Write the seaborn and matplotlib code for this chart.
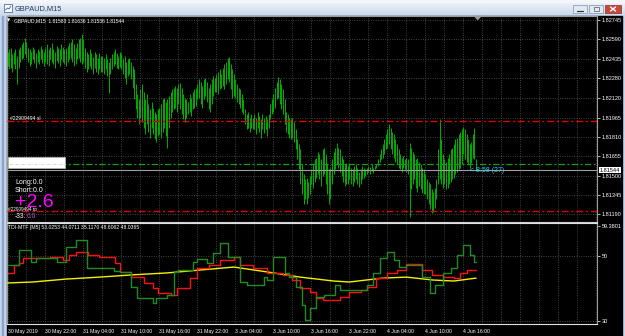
import numpy as np
import pandas as pd
import matplotlib
matplotlib.use("Agg")
import matplotlib.pyplot as plt
import seaborn as sns
from matplotlib.patches import Rectangle, Polygon
from matplotlib.colors import LinearSegmentedColormap
import matplotlib.transforms as mtransforms

sns.set_theme(style="dark")
plt.rcParams['font.family'] = ['Liberation Sans', 'DejaVu Sans']

# ---------------- data ----------------
symbol = "GBPAUD,M15"
ohlc_last = "1.81583 1.81636 1.81536 1.81544"
bid = 1.81544

highs = [
    1.8249,1.8251,1.8252,1.8247,1.8249,1.8251,1.8246,1.8251,1.8253,1.8255,1.8257,1.8260,
    1.8257,1.8252,1.8251,1.8249,1.8253,1.8251,1.8248,1.8251,1.8250,1.8254,1.8251,1.8249,
    1.8252,1.8255,1.8251,1.8253,1.8256,1.8251,1.8249,1.8254,1.8252,1.8251,1.8255,1.8253,
    1.8251,1.8252,1.8254,1.8256,1.8257,1.8259,1.8255,1.8252,1.8256,1.8259,1.8260,1.8263,
    1.8259,1.8252,1.8249,1.8247,1.8251,1.8248,1.8245,1.8249,1.8247,1.8244,1.8248,1.8246,
    1.8246,1.8244,1.8247,1.8243,1.8241,1.8244,1.8247,1.8249,1.8251,1.8248,1.8246,1.8249,
    1.8248,1.8244,1.8246,1.8241,1.8243,1.8244,1.8241,1.8238,1.8235,1.8223,1.8215,1.8211,
    1.8219,1.8223,1.8217,1.8211,1.8215,1.8207,1.8203,1.8209,1.8204,1.8201,1.8199,1.8203,
    1.8204,1.8207,1.8211,1.8212,1.8209,1.8211,1.8214,1.8217,1.8219,1.8220,1.8222,1.8220,
    1.8223,1.8224,1.8220,1.8215,1.8212,1.8211,1.8209,1.8215,1.8212,1.8217,1.8219,1.8220,
    1.8223,1.8227,1.8225,1.8222,1.8227,1.8228,1.8225,1.8220,1.8223,1.8227,1.8230,1.8228,
    1.8231,1.8233,1.8235,1.8231,1.8236,1.8239,1.8241,1.8244,1.8245,1.8239,1.8235,1.8231,
    1.8227,1.8223,1.8220,1.8219,1.8215,1.8211,1.8203,1.8199,1.8201,1.8196,1.8199,1.8196,
    1.8199,1.8196,1.8201,1.8198,1.8195,1.8199,1.8196,1.8198,1.8195,1.8199,1.8207,1.8211,
    1.8215,1.8220,1.8225,1.8229,1.8227,1.8223,1.8219,1.8211,1.8201,1.8199,1.8196,1.8195,
    1.8196,1.8193,1.8187,1.8179,1.8175,1.8171,1.8159,1.8151,1.8147,1.8148,1.8145,1.8150,
    1.8155,1.8159,1.8163,1.8164,1.8169,1.8167,1.8163,1.8171,1.8172,1.8167,1.8159,1.8155,
    1.8156,1.8163,1.8169,1.8172,1.8176,1.8172,1.8171,1.8166,1.8163,1.8159,1.8160,1.8158,
    1.8159,1.8156,1.8155,1.8158,1.8159,1.8156,1.8153,1.8155,1.8158,1.8156,1.8155,1.8156,
    1.8158,1.8157,1.8159,1.8156,1.8158,1.8159,1.8163,1.8167,1.8171,1.8175,1.8179,1.8183,
    1.8187,1.8191,1.8188,1.8185,1.8183,1.8179,1.8175,1.8171,1.8167,1.8164,1.8166,1.8163,
    1.8164,1.8163,1.8176,1.8172,1.8169,1.8167,1.8163,1.8164,1.8161,1.8159,1.8156,1.8155,
    1.8151,1.8147,1.8145,1.8143,1.8139,1.8137,1.8140,1.8147,1.8171,1.8195,1.8179,1.8167,
    1.8163,1.8161,1.8164,1.8167,1.8171,1.8172,1.8175,1.8179,1.8180,1.8183,1.8185,1.8187,
    1.8189,1.8187,1.8183,1.8179,1.8175,1.8177,1.8183,1.8188,1.81636]

lows = [
    1.8238,1.8235,1.8236,1.8233,1.8239,1.8235,1.8223,1.8236,1.8241,1.8243,1.8244,1.8247,
    1.8244,1.8241,1.8238,1.8239,1.8243,1.8240,1.8236,1.8241,1.8239,1.8243,1.8240,1.8238,
    1.8241,1.8239,1.8238,1.8243,1.8241,1.8239,1.8236,1.8242,1.8240,1.8238,1.8243,1.8241,
    1.8239,1.8238,1.8241,1.8243,1.8244,1.8241,1.8238,1.8239,1.8243,1.8244,1.8241,1.8239,
    1.8241,1.8236,1.8233,1.8235,1.8238,1.8235,1.8231,1.8236,1.8233,1.8231,1.8235,1.8233,
    1.8233,1.8231,1.8235,1.8230,1.8216,1.8231,1.8235,1.8238,1.8239,1.8236,1.8235,1.8237,
    1.8235,1.8231,1.8228,1.8223,1.8230,1.8231,1.8227,1.8220,1.8211,1.8203,1.8196,1.8191,
    1.8196,1.8193,1.8188,1.8183,1.8191,1.8185,1.8180,1.8188,1.8183,1.8179,1.8177,1.8182,
    1.8183,1.8180,1.8185,1.8188,1.8182,1.8172,1.8188,1.8196,1.8201,1.8203,1.8204,1.8201,
    1.8207,1.8203,1.8199,1.8195,1.8193,1.8196,1.8199,1.8201,1.8198,1.8203,1.8204,1.8206,
    1.8211,1.8212,1.8207,1.8204,1.8211,1.8214,1.8209,1.8203,1.8201,1.8207,1.8214,1.8217,
    1.8217,1.8215,1.8219,1.8220,1.8222,1.8219,1.8223,1.8227,1.8225,1.8219,1.8212,1.8214,
    1.8212,1.8209,1.8207,1.8204,1.8201,1.8199,1.8191,1.8187,1.8188,1.8185,1.8188,1.8187,
    1.8187,1.8183,1.8188,1.8185,1.8180,1.8187,1.8184,1.8187,1.8182,1.8188,1.8195,1.8199,
    1.8201,1.8204,1.8211,1.8212,1.8207,1.8203,1.8199,1.8191,1.8185,1.8183,1.8180,1.8179,
    1.8180,1.8177,1.8171,1.8163,1.8155,1.8143,1.8135,1.8127,1.8131,1.8127,1.8132,1.8135,
    1.8143,1.8140,1.8145,1.8148,1.8151,1.8147,1.8142,1.8150,1.8151,1.8143,1.8135,1.8127,
    1.8131,1.8143,1.8151,1.8155,1.8159,1.8156,1.8153,1.8150,1.8145,1.8142,1.8143,1.8143,
    1.8147,1.8143,1.8142,1.8145,1.8147,1.8143,1.8141,1.8143,1.8147,1.8148,1.8150,1.8151,
    1.8153,1.8151,1.8154,1.8152,1.8155,1.8156,1.8158,1.8161,1.8163,1.8164,1.8167,1.8171,
    1.8172,1.8175,1.8171,1.8167,1.8164,1.8161,1.8159,1.8156,1.8155,1.8153,1.8156,1.8155,
    1.8153,1.8151,1.8117,1.8139,1.8143,1.8147,1.8140,1.8137,1.8142,1.8139,1.8136,1.8135,
    1.8135,1.8131,1.8127,1.8123,1.8120,1.8121,1.8124,1.8131,1.8143,1.8147,1.8143,1.8140,
    1.8143,1.8139,1.8140,1.8143,1.8145,1.8147,1.8148,1.8151,1.8153,1.8155,1.8156,1.8159,
    1.8167,1.8163,1.8161,1.8159,1.8156,1.8160,1.8164,1.8163,1.81536]

price_ticks = [1.82745, 1.82590, 1.82435, 1.82280, 1.82120, 1.81965,
               1.81810, 1.81655, 1.81500, 1.81345, 1.81190]

time_label_bars = [0, 24, 48, 72, 96, 120, 144, 168, 192, 216, 240, 264, 288]
time_labels = ["30 May 2019", "30 May 22:00", "31 May 04:00", "31 May 10:00",
               "31 May 16:00", "31 May 22:00", "3 Jun 04:00", "3 Jun 10:00",
               "3 Jun 16:00", "3 Jun 22:00", "4 Jun 04:00", "4 Jun 10:00",
               "4 Jun 16:00"]

green_bars = [0,7,15,18,31,37,43,50,67,71,78,82,92,94,101,105,108,117,120,126,
              130,134,139,147,151,162,164,168,175,178,182,186,188,191,195,200,207,210,227,231,
              235,240,244,247,252,262,267,270,275,280,284,288,292,295,296]
green_vals = [47.2,51.8,48.2,49.4,48.2,52.8,54.9,46.3,45.4,45.1,40.5,37.1,35.5,37.1,38.0,45.1,45.7,48.2,49.1,47.8,
              50.9,54.0,49.7,42.0,41.1,43.5,42.6,49.7,44.8,43.5,40.5,34.9,30.3,34.0,37.4,38.0,41.1,39.5,41.1,44.8,
              49.4,51.2,48.8,46.6,47.2,43.5,38.6,41.1,44.8,46.3,50.3,53.4,50.3,48.2,48.2]
red_bars = [0,4,7,10,27,35,39,43,51,58,68,71,78,86,92,95,103,107,115,120,
            127,134,143,147,155,164,174,180,185,191,195,199,210,216,223,227,233,240,246,252,
            262,268,275,282,286,290,296]
red_vals = [44.8,47.2,47.8,49.4,49.7,48.8,50.3,51.2,50.3,49.7,47.8,45.1,43.5,41.7,40.2,38.6,38.0,40.2,43.2,46.3,
            47.2,48.8,49.7,47.2,46.3,44.8,44.2,42.6,40.2,38.9,37.1,36.5,37.4,38.9,39.5,40.5,43.2,44.8,45.7,47.5,
            45.7,44.2,43.5,43.2,44.8,45.7,45.7]
yellow_bars = [0,16,37,58,79,101,122,143,164,185,206,216,237,252,269,282,296]
yellow_vals = [41.7,42.0,42.9,43.5,44.2,44.8,45.7,46.6,45.1,43.5,42.3,42.0,43.2,43.5,42.6,42.3,43.2]

indicator_header = "TDI-MTF [M5] 53.0253 44.0711 35.1170 48.6062 48.0365"
ind_ticks = [59.3801, 50, 30]
ind_tick_labels = ["59.3801", "50", "30"]
ind_levels = [50, 30]

sl_price = 1.81937
tp_price = 1.81217
pending_price = 1.81597

# ---------------- layout helpers ----------------
W, H = 625, 336
def rect(x0, y0, x1, y1):
    return [x0 / W, 1 - y1 / H, (x1 - x0) / W, (y1 - y0) / H]

fig = plt.figure(figsize=(W / 100, H / 100), dpi=100)
fig.patch.set_facecolor('#d3e0f0')

# background / window chrome
bg = fig.add_axes(rect(0, 0, W, H), zorder=0)
bg.set_xlim(0, W); bg.set_ylim(H, 0); bg.set_axis_off()
grad = np.linspace(0, 1, 32).reshape(-1, 1)
cm = LinearSegmentedColormap.from_list('tb', ['#eef3fa', '#c9d8ec'])
bg.imshow(grad, cmap=cm, aspect='auto', extent=[0, W, 16, 2], zorder=0)
bg.add_patch(Rectangle((0, 0), W, 2, color='#f4f6f9', zorder=1))
bg.add_patch(Rectangle((0, 16), 7, H - 16, color='#c6d6ec', zorder=1))
bg.add_patch(Rectangle((1.5, 16), 1.2, H - 16, color='#8aa6cc', zorder=2))
bg.add_patch(Rectangle((622, 16), 3, H - 16, color='#c6d6ec', zorder=1))
bg.add_patch(Rectangle((7, 16), 615, H - 16, color='black', zorder=1))

# ---------------- price panel ----------------
X0 = 7.5
PX = 1.583
xlim = ((7 - X0) / PX, (597 - X0) / PX)

def p_of_y(y):
    return 1.82905 - 0.00008 * y

GRID = dict(color='#6c6c6c', lw=0.5, ls=(0, (1.2, 2.2)))

ax = fig.add_axes(rect(7, 16, 597, 222), zorder=2)
ax.set_facecolor('black')
n = min(len(highs), len(lows))
bars = np.arange(n)
ax.vlines(bars, lows[:n], highs[:n], colors='#00a800', lw=0.72, zorder=3)
ax.set_xlim(*xlim)
ax.set_ylim(p_of_y(222), p_of_y(16))
ax.yaxis.tick_right()
ax.set_yticks(price_ticks)
ax.set_yticklabels([f"{t:.5f}" for t in price_ticks])
ax.tick_params(axis='y', colors='white', labelsize=4.0, length=2, width=0.5, pad=1.5)
ax.tick_params(axis='x', length=0, labelbottom=False)
grid_bars = np.arange(0, 373, 12)
ax.set_xticks(grid_bars)
ax.grid(True, axis='both', **GRID)
for s in ax.spines.values():
    s.set_color('#9a9a9a'); s.set_linewidth(0.8)
ax.spines['bottom'].set_color('#d0d0d0')

ax.axhline(sl_price, color='#e00000', lw=1.0, ls=(0, (5, 2, 1.5, 2)), zorder=4)
ax.axhline(tp_price, color='#e00000', lw=1.0, ls=(0, (5, 2, 1.5, 2)), zorder=4)
ax.axhline(pending_price, color='#10a010', lw=0.9, ls=(0, (5, 2, 1.5, 2)), zorder=4)
ax.axhline(bid, color='#a0a0a0', lw=0.8, zorder=4)

tr = mtransforms.blended_transform_factory(ax.transAxes, ax.transData)
ax.text(1.004, bid, f"{bid:.5f}", transform=tr, fontsize=4.0, color='black',
        va='center', ha='left', zorder=6,
        bbox=dict(boxstyle='square,pad=0.15', fc='white', ec='white', lw=0))

# ---------------- indicator panel ----------------
ax2 = fig.add_axes(rect(7, 223, 597, 324), zorder=2)
ax2.set_facecolor('black')
def v_of_y(y):
    return 50 + (256 - y) / 3.25
ax2.set_xlim(*xlim)
ax2.set_ylim(v_of_y(324), v_of_y(223))

for bx, vals, col in [(yellow_bars, yellow_vals, '#f2f200'),
                      (red_bars, red_vals, '#ff1010'),
                      (green_bars, green_vals, '#1e8c1e')]:
    df = pd.DataFrame({'bar': bx, 'value': vals})
    kw = dict(drawstyle='steps-post') if col != '#f2f200' else {}
    sns.lineplot(data=df, x='bar', y='value', ax=ax2, color=col, lw=1.0,
                 estimator=None, sort=False, zorder=4, **kw)
ax2.set_xlabel(''); ax2.set_ylabel('')
for lv in ind_levels:
    ax2.axhline(lv, zorder=1, **GRID)
ax2.set_xticks(grid_bars, minor=True)
ax2.set_xticks(time_label_bars)
ax2.set_xticklabels(time_labels)
for lab in ax2.get_xticklabels():
    lab.set_horizontalalignment('left')
ax2.tick_params(axis='x', which='major', colors='white', labelsize=3.7, length=2, width=0.5, pad=1.5)
ax2.tick_params(axis='x', which='minor', length=0)
ax2.grid(True, axis='x', which='both', **GRID)
ax2.grid(False, axis='y')
ax2.yaxis.tick_right()
ax2.set_yticks(ind_ticks)
ax2.set_yticklabels(ind_tick_labels)
ax2.tick_params(axis='y', colors='white', labelsize=4.0, length=2, width=0.5, pad=1.5)
for s in ax2.spines.values():
    s.set_color('#9a9a9a'); s.set_linewidth(0.8)
ax2.spines['bottom'].set_color('#e0e0e0')
ax2.spines['top'].set_color('#e0e0e0')

# ---------------- overlay texts ----------------
ov = fig.add_axes(rect(0, 0, W, H), zorder=5)
ov.set_xlim(0, W); ov.set_ylim(H, 0); ov.set_axis_off()
ov.patch.set_alpha(0)

# title bar
ov.add_patch(Rectangle((4, 4), 8, 8, fc='#ffffff', ec='#4a6fa5', lw=0.6))
ov.plot([5.5, 7.5, 9, 11], [10, 8, 9, 6], color='#2a62b8', lw=0.6)
ov.text(15, 8.5, symbol, fontsize=5.3, color='#1e3a5f', va='center', ha='left')
# window buttons
ov.add_patch(Rectangle((573, 5), 14, 8, fc='#dfe8f3', ec='#7d93b2', lw=0.5))
ov.plot([577, 583], [10.5, 10.5], color='#333333', lw=0.9)
ov.add_patch(Rectangle((589, 5), 14, 8, fc='#dfe8f3', ec='#7d93b2', lw=0.5))
ov.add_patch(Rectangle((593.5, 7), 5, 4, fc='none', ec='#555555', lw=0.5))
ov.add_patch(Rectangle((605, 5), 16, 8, fc='#c9483e', ec='#8a2a22', lw=0.5))
ov.plot([610.5, 615.5], [7, 11], color='white', lw=1.0)
ov.plot([610.5, 615.5], [11, 7], color='white', lw=1.0)

# chart header
ov.text(9, 21, '\u25BC', fontsize=3, color='white', va='center', ha='center',
        family=['DejaVu Sans'])
ov.text(14, 21, f"{symbol}  {ohlc_last}", fontsize=3.6, color='white', va='center', ha='left')
ov.add_patch(Polygon([(475, 16.5), (480.5, 16.5), (477.7, 19.5)], color='#9a9a9a'))

ov.text(10, 118, "#22909494 sl", fontsize=3.6, color='white', va='center', ha='left')
ov.add_patch(Rectangle((8, 157), 57, 10.5, fc='white', ec='#cccccc', lw=0.4))
ov.plot([9, 64], [163.5, 163.5], color='#c8c8c8', lw=0.5, ls=(0, (4, 2, 1, 2)))

ov.text(15, 182, "Long:0.0", fontsize=5.0, color='white', va='center', ha='left')
ov.text(15, 190.5, "Short:0.0", fontsize=5.0, color='white', va='center', ha='left')
ov.text(8, 209, "#22909494 tp", fontsize=3.4, color='white', va='center', ha='left')
ov.text(15, 202.5, "+2.6", fontsize=14, color='#ff00ff', va='center', ha='left')
ov.text(15, 216.5, "-33.", fontsize=4.8, color='white', va='center', ha='left')
ov.text(26.5, 216.5, "6.0", fontsize=4.8, color='#d050d0', va='center', ha='left')

ov.text(470, 170.5, "< 8:58 (27)", fontsize=5.0, color='#20d0ff', va='center', ha='left')

ov.text(8, 228, indicator_header, fontsize=3.7, color='white', va='center', ha='left')

fig.savefig("out.png", dpi=100, facecolor=fig.get_facecolor())
